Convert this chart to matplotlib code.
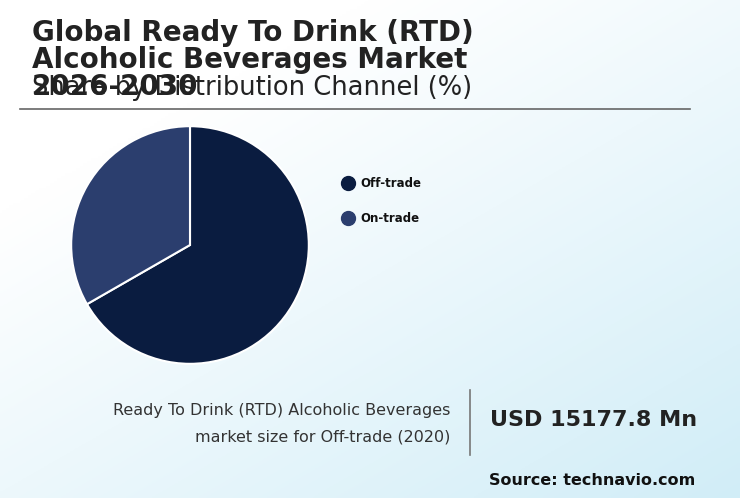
import numpy as np
import matplotlib.pyplot as plt

channels = ["Off-trade", "On-trade"]
shares = [66.7, 33.3]
colors = ["#0a1c40", "#2b3e6e"]
market_size = "USD 15177.8 Mn"

W, H = 740, 498
fig = plt.figure(figsize=(W / 100, H / 100), dpi=100)

# background gradient
bg = fig.add_axes([0, 0, 1, 1])
xx, yy = np.meshgrid(np.linspace(0, 1, 200), np.linspace(0, 1, 200))
t = np.clip((xx * 0.6 + yy * 0.7) - 0.3, 0, 1)
top = np.array([1.0, 1.0, 1.0])
bot = np.array([0.82, 0.93, 0.97])
img = top + (bot - top) * t[..., None]
bg.imshow(img, extent=[0, W, H, 0], aspect="auto")
bg.set_xlim(0, W)
bg.set_ylim(H, 0)
bg.axis("off")

# titles (overlapping as in the reference)
bg.text(32, 60, "Global Ready To Drink (RTD)\nAlcoholic Beverages Market\n2026-2030",
        fontsize=20, fontweight="bold", color="#222222", va="center",
        linespacing=0.95)
bg.text(32, 88, "Share by Distribution Channel (%)", fontsize=18.5,
        color="#222222", va="center")
bg.plot([20, 690], [109, 109], color="#666666", lw=1.2)

# pie
ax = fig.add_axes([70 / W, 1 - 365 / H, 240 / W, 240 / H])
ax.pie(shares, colors=colors, startangle=90, counterclock=False, radius=1,
       wedgeprops=dict(edgecolor="white", linewidth=1.5))
ax.set_xlim(-1.01, 1.01)
ax.set_ylim(-1.01, 1.01)
ax.set_aspect("equal")

# legend
for i, (name, c) in enumerate(zip(channels, colors)):
    y = 183 + 35 * i
    bg.scatter([348], [y], s=100, color=c, zorder=3)
    bg.text(360, y, name, fontsize=8.5, fontweight="bold", va="center", color="#111111")

# bottom info
bg.text(450, 410, "Ready To Drink (RTD) Alcoholic Beverages", fontsize=11.5,
        ha="right", va="center", color="#333333")
bg.text(450, 437, "market size for Off-trade (2020)", fontsize=11.5,
        ha="right", va="center", color="#333333")
bg.plot([470, 470], [390, 455], color="#777777", lw=1.2)
bg.text(490, 420, market_size, fontsize=16, fontweight="bold", va="center",
        color="#222222")
bg.text(695, 480, "Source: technavio.com", fontsize=11.5, fontweight="bold",
        ha="right", va="center", color="#111111")

fig.savefig("out.png", dpi=100)
